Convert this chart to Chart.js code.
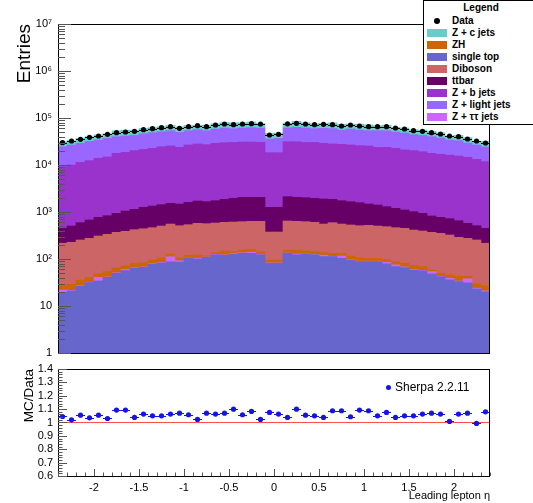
<!DOCTYPE html>
<html lang="en">
<head>
<meta charset="UTF-8">
<title>Leading lepton eta</title>
<script src="https://cdn.jsdelivr.net/npm/chart.js"></script>
<style>
  body { margin: 0; background: #fff; }
  #page { position: relative; width: 533px; height: 503px; overflow: hidden; font-family: 'Liberation Sans', Arial, Helvetica, sans-serif; }
  #mainChart { position: absolute; left: 0; top: 0; }
  #ratioChart { position: absolute; left: 0; top: 362px; }
  #legend { position: absolute; left: 423px; top: 0; width: 116px; height: 125px; border: 1px solid #000; background: #fff; box-sizing: border-box; font: bold 10px 'Liberation Sans', Arial, sans-serif; }
  #legend .title { position: absolute; left: 0; right: 0; top: 1px; text-align: center; line-height: 12px; }
  #legend .row { position: absolute; left: 0; height: 12px; line-height: 12px; white-space: nowrap; }
  #legend .sw { position: absolute; left: 3px; top: 2px; width: 20px; height: 8px; }
  #legend .dot { position: absolute; left: 10px; top: 3px; width: 6px; height: 6px; border-radius: 50%; background: #000; }
  #legend .lbl { position: absolute; left: 28px; top: 0; }
  #sherpa { position: absolute; left: 386px; top: 379px; font-size: 12px; line-height: 16px; white-space: nowrap; }
  #sherpa .dot { display: inline-block; width: 5px; height: 5px; border-radius: 50%; background: #1414e6; margin-right: 4px; vertical-align: 1px; }
</style>
</head>
<body>
<div id="page">
  <canvas id="mainChart" width="533" height="362"></canvas>
  <canvas id="ratioChart" width="533" height="141"></canvas>
  <div id="legend"></div>
  <div id="sherpa"><span class="dot"></span>Sherpa 2.2.11</div>
</div>
<script>
// 48 bins of 0.1 in eta, from -2.4 to 2.4
const binCenters = [-2.35, -2.25, -2.15, -2.05, -1.95, -1.85, -1.75, -1.65, -1.55, -1.45,
  -1.35, -1.25, -1.15, -1.05, -0.95, -0.85, -0.75, -0.65, -0.55, -0.45,
  -0.35, -0.25, -0.15, -0.05, 0.05, 0.15, 0.25, 0.35, 0.45, 0.55,
  0.65, 0.75, 0.85, 0.95, 1.05, 1.15, 1.25, 1.35, 1.45, 1.55,
  1.65, 1.75, 1.85, 1.95, 2.05, 2.15, 2.25, 2.35];
const binHalfWidth = 0.05;

const dataCounts = [29800, 32400, 35200, 38800, 41400, 44900, 48700, 50400, 52000, 56400,
  59300, 62200, 65400, 60300, 65400, 68700, 65400, 71000, 74500, 72100,
  74500, 75700, 74500, 43500, 44900, 75000, 77100, 74500, 72100, 73300,
  72100, 67600, 71000, 67600, 65400, 65400, 65400, 61200, 58300, 53700,
  52000, 48700, 45700, 41400, 40100, 35700, 32400, 29400];

// MC samples, listed bottom of the stack first
const singleTop = [19.5, 20.9, 26.6, 31.4, 34, 40.7, 49.6, 56.5, 63.3, 66.5,
  78.3, 82.2, 87, 86.3, 103, 100, 108, 122, 120, 126,
  132, 132, 122, 81, 81, 132, 122, 126, 122, 112,
  112, 103, 95, 88, 88, 88, 79, 69, 66, 58,
  56, 48, 42, 36, 33, 31, 23, 20];
const zTauTau = [2.5, 0.6, 0.9, 0.6, 6.7, 0.8, 1.4, 3.5, 1.7, 1.5,
  1.7, 1.8, 25, 5.7, 2, 4, 2, 3, 2, 4,
  4, 8, 2, 2, 2, 2, 6, 2, 3, 8,
  2, 13, 2, 2, 2, 2, 6, 6, 2, 2,
  1, 6, 1, 3, 1, 7, 1, 1];
const zh = [5, 7.4, 8.2, 8.7, 7.3, 12.2, 13.4, 11, 15.9, 15.5,
  15.2, 23, 16, 13, 15, 18, 8, 11, 26, 13,
  19, 21, 19, 12, 12, 21, 27, 20, 19, 16,
  18, 16, 19, 17, 13, 13, 13, 13, 13, 12,
  12, 4, 7, 7, 9, 5, 6, 6];
const diboson = [189, 198, 218, 234, 260, 281, 305, 317, 340, 357,
  369, 396, 427, 406, 417, 452, 447, 447, 455, 469,
  467, 471, 489, 280, 280, 489, 477, 474, 459, 419,
  461, 423, 413, 404, 417, 400, 389, 376, 368, 342,
  325, 311, 302, 278, 246, 232, 224, 189];
const ttbar = [233, 276, 339, 401, 463, 500, 568, 662, 719, 816,
  878, 929, 975, 969, 1070, 1140, 1092, 1158, 1259, 1343,
  1431, 1421, 1421, 882, 882, 1474, 1421, 1396, 1352, 1336,
  1269, 1186, 1130, 1069, 960, 906, 811, 733, 655, 602,
  543, 453, 419, 397, 364, 299, 257, 233];
const zbJets = [8750, 9500, 10810, 11720, 13130, 13970, 16760, 17550, 19060, 20240,
  21260, 23070, 23870, 22320, 25090, 26290, 25440, 27160, 27940, 28350,
  28750, 28750, 28250, 17040, 17040, 29180, 29250, 28280, 28350, 27010,
  26140, 25760, 25040, 24220, 23920, 22390, 22500, 21400, 19800, 19180,
  18260, 16880, 16130, 15480, 14850, 14030, 12690, 11350];
const zLightJets = [15240, 16570, 17460, 19420, 20050, 22020, 22230, 22730, 22440, 24750,
  26030, 26500, 28230, 25650, 26930, 28330, 26530, 29320, 31290, 28820,
  30290, 31270, 30790, 17370, 18520, 30200, 31920, 30790, 28820, 31210,
  31120, 27930, 31520, 29630, 28230, 29830, 29830, 27580, 26910, 23830,
  23440, 22230, 20570, 17750, 17380, 14670, 13370, 12310];
const zcJets = [6700, 6480, 8270, 8340, 9730, 9430, 13300, 13760, 11340, 13710,
  13640, 14310, 15890, 15080, 15570, 13950, 16350, 17250, 18630, 20190,
  17730, 19910, 15120, 11090, 10910, 16350, 21590, 17510, 16580, 15980,
  19320, 18120, 15830, 18460, 17530, 15040, 16680, 13340, 13410, 12350,
  12640, 12180, 11110, 7780, 9740, 8930, 5610, 7640];

const ratioValues = [1.045, 1.02, 1.055, 1.035, 1.055, 1.03, 1.093, 1.093, 1.038, 1.063,
  1.05, 1.05, 1.063, 1.07, 1.058, 1.023, 1.07, 1.063, 1.07, 1.10,
  1.058, 1.083, 1.023, 1.075, 1.063, 1.038, 1.10, 1.055, 1.05, 1.038,
  1.088, 1.088, 1.043, 1.093, 1.088, 1.05, 1.075, 1.038, 1.05, 1.05,
  1.063, 1.07, 1.063, 1.008, 1.063, 1.07, 0.993, 1.08];
const ratioErrors = [0.012, 0.009, 0.008, 0.008, 0.007, 0.007, 0.006, 0.006, 0.006, 0.006,
  0.006, 0.006, 0.006, 0.006, 0.006, 0.006, 0.006, 0.006, 0.006, 0.006,
  0.006, 0.006, 0.006, 0.008, 0.008, 0.006, 0.006, 0.006, 0.006, 0.006,
  0.006, 0.006, 0.006, 0.006, 0.006, 0.006, 0.006, 0.006, 0.006, 0.006,
  0.007, 0.007, 0.008, 0.008, 0.009, 0.010, 0.012, 0.013];

const xTickValues = [-2, -1.5, -1, -0.5, 0, 0.5, 1, 1.5, 2];
const xTickLabels = ['-2', '-1.5', '-1', '-0.5', '0', '0.5', '1', '1.5', '2'];
const yTickValues = [1, 10, 100, 1e3, 1e4, 1e5, 1e6, 1e7];
const yTickLabels = ['1', '10', '10\u00b2', '10\u00b3', '10\u2074', '10\u2075', '10\u2076', '10\u2077'];
const ratioTickValues = [0.6, 0.7, 0.8, 0.9, 1, 1.1, 1.2, 1.3, 1.4];
const ratioTickLabels = ['0.6', '0.7', '0.8', '0.9', '1', '1.1', '1.2', '1.3', '1.4'];

const colors = {
  zc: '#66cccc', zh: '#cc6600', top: '#6666cc', vv: '#cc6666',
  tt: '#660066', zb: '#9933cc', zl: '#9966ff', ztt: '#cc66ff'
};

const stack = [
  { label: 'single top', values: singleTop, color: colors.top },
  { label: 'Z + \u03c4\u03c4 jets', values: zTauTau, color: colors.ztt },
  { label: 'ZH', values: zh, color: colors.zh },
  { label: 'Diboson', values: diboson, color: colors.vv },
  { label: 'ttbar', values: ttbar, color: colors.tt },
  { label: 'Z + b jets', values: zbJets, color: colors.zb },
  { label: 'Z + light jets', values: zLightJets, color: colors.zl },
  { label: 'Z + c jets', values: zcJets, color: colors.zc }
];

const legendRows = [
  ['Data', null], ['Z + c jets', colors.zc], ['ZH', colors.zh], ['single top', colors.top],
  ['Diboson', colors.vv], ['ttbar', colors.tt], ['Z + b jets', colors.zb],
  ['Z + light jets', colors.zl], ['Z + \u03c4\u03c4 jets', colors.ztt]
];

const fontFamily = "'Liberation Sans', Arial, Helvetica, sans-serif";
Chart.defaults.font.family = fontFamily;
Chart.defaults.color = '#000';

// legend box in the top right corner
const legendEl = document.getElementById('legend');
legendEl.innerHTML = '<div class="title">Legend</div>' + legendRows.map(([name, col], i) => {
  const top = 14 + i * 11.95;
  const mark = col ? `<span class="sw" style="background:${col}"></span>` : '<span class="dot"></span>';
  return `<div class="row" style="top:${top}px">${mark}<span class="lbl">${name}</span></div>`;
}).join('');

const toPoints = vals => vals.map((v, i) => ({ x: binCenters[i], y: v }));

// ROOT-like frame with tick marks pointing into the pad
function drawFrame(ctx, a) {
  ctx.strokeStyle = '#000';
  ctx.lineWidth = 1;
  ctx.strokeRect(a.left + 0.5, a.top + 0.5, a.right - a.left - 1, a.bottom - a.top);
}

function tick(ctx, x1, y1, x2, y2) {
  ctx.beginPath();
  ctx.moveTo(x1, y1);
  ctx.lineTo(x2, y2);
  ctx.stroke();
}

const mainDecor = {
  id: 'mainDecor',
  afterDatasetsDraw(chart) {
    const { ctx, chartArea: a, scales: { x, y } } = chart;
    ctx.save();
    // horizontal bin-width bars on the data points
    ctx.strokeStyle = '#000';
    ctx.lineWidth = 1;
    dataCounts.forEach((v, i) => {
      const py = Math.round(y.getPixelForValue(v)) + 0.5;
      tick(ctx, x.getPixelForValue(binCenters[i] - binHalfWidth), py, x.getPixelForValue(binCenters[i] + binHalfWidth), py);
    });
    drawFrame(ctx, a);
    ctx.strokeStyle = '#555';
    for (let e = 0; e < 7; e++) {
      for (let k = 1; k <= 9; k++) {
        const py = Math.round(y.getPixelForValue(k * Math.pow(10, e))) + 0.5;
        tick(ctx, a.left, py, a.left + (k === 1 ? 13 : 7), py);
      }
    }
    const top = Math.round(y.getPixelForValue(1e7)) + 0.5;
    tick(ctx, a.left, top, a.left + 13, top);
    ctx.restore();
  }
};

const ratioDecor = {
  id: 'ratioDecor',
  beforeDatasetsDraw(chart) {
    const { ctx, scales: { x, y } } = chart;
    ctx.save();
    ctx.strokeStyle = '#1414e6';
    ctx.lineWidth = 1;
    ratioValues.forEach((v, i) => {
      const px = x.getPixelForValue(binCenters[i]);
      const py = Math.round(y.getPixelForValue(v)) + 0.5;
      tick(ctx, x.getPixelForValue(binCenters[i] - binHalfWidth), py, x.getPixelForValue(binCenters[i] + binHalfWidth), py);
      tick(ctx, Math.round(px) + 0.5, y.getPixelForValue(v - ratioErrors[i]), Math.round(px) + 0.5, y.getPixelForValue(v + ratioErrors[i]));
    });
    ctx.restore();
  },
  afterDraw(chart) {
    const { ctx, chartArea: a, scales: { x, y } } = chart;
    ctx.save();
    drawFrame(ctx, a);
    ctx.strokeStyle = '#555';
    for (let k = 30; k <= 70; k++) {
      const py = Math.round(y.getPixelForValue(k / 50)) + 0.5;
      tick(ctx, a.left, py, a.left + (k % 5 === 0 ? 9 : 4.5), py);
    }
    for (let k = -24; k <= 24; k++) {
      const px = Math.round(x.getPixelForValue(k / 10)) + 0.5;
      tick(ctx, px, a.bottom, px, a.bottom - (k % 5 === 0 ? 7 : 3.5));
    }
    ctx.restore();
  }
};

const mainDatasets = stack.map(s => ({
  type: 'bar',
  label: s.label,
  stack: 'mc',
  data: toPoints(s.values),
  backgroundColor: s.color,
  borderWidth: 0,
  barPercentage: 1,
  categoryPercentage: 1
}));
mainDatasets.push({
  type: 'line',
  label: 'Data',
  stack: 'data',
  order: -1,
  data: toPoints(dataCounts),
  showLine: false,
  pointRadius: 2.6,
  pointBackgroundColor: '#000',
  pointBorderWidth: 0
});

// the tick gap sits in tickLength (grid lines themselves are hidden), so the
// tick label padding stays 0 and does not push the plot area inwards
new Chart(document.getElementById('mainChart'), {
  type: 'bar',
  data: { datasets: mainDatasets },
  options: {
    responsive: false,
    animation: false,
    layout: { padding: { top: 24, right: 43, bottom: 9, left: 0 } },
    plugins: { legend: { display: false }, tooltip: { enabled: false } },
    scales: {
      x: {
        type: 'linear', min: -2.4, max: 2.4, offset: false, display: false,
        afterBuildTicks: s => { s.ticks = xTickValues.map(v => ({ value: v })); }
      },
      y: {
        type: 'logarithmic', min: 1, max: 1e7, stacked: true,
        afterBuildTicks: s => { s.ticks = yTickValues.map(v => ({ value: v })); },
        afterFit: s => { s.width = 58; },
        grid: { display: false, drawTicks: true, tickLength: 6 },
        border: { display: false },
        ticks: {
          autoSkip: false, padding: 0, font: { size: 11 },
          callback: v => yTickLabels[yTickValues.indexOf(v)]
        },
        title: { display: true, text: 'Entries', align: 'end', font: { size: 19 }, padding: { top: 13 } }
      }
    }
  },
  plugins: [mainDecor]
});

new Chart(document.getElementById('ratioChart'), {
  type: 'scatter',
  data: {
    datasets: [
      {
        label: 'Sherpa 2.2.11',
        data: toPoints(ratioValues),
        pointRadius: 2.6,
        pointBackgroundColor: '#1414e6',
        pointBorderWidth: 0
      },
      {
        type: 'line',
        label: 'unity',
        data: [{ x: -2.4, y: 1 }, { x: 2.4, y: 1 }],
        borderColor: '#ff5050',
        borderWidth: 1.2,
        pointRadius: 0
      }
    ]
  },
  options: {
    responsive: false,
    animation: false,
    layout: { padding: { top: 7, right: 43, bottom: 0, left: 0 } },
    plugins: { legend: { display: false }, tooltip: { enabled: false } },
    scales: {
      x: {
        type: 'linear', min: -2.4, max: 2.4,
        afterBuildTicks: s => { s.ticks = xTickValues.map(v => ({ value: v })); },
        afterFit: s => { s.height = 27; },
        grid: { display: false, drawTicks: true, tickLength: 5 },
        border: { display: false },
        ticks: {
          autoSkip: false, maxRotation: 0, padding: 0, font: { size: 11 },
          callback: v => xTickLabels[xTickValues.indexOf(v)]
        },
        title: { display: true, text: 'Leading lepton \u03b7', align: 'end', font: { size: 11 }, padding: 0 }
      },
      y: {
        min: 0.6, max: 1.4,
        afterBuildTicks: s => { s.ticks = ratioTickValues.map(v => ({ value: v })); },
        afterFit: s => { s.width = 58; },
        grid: { display: false, drawTicks: true, tickLength: 5 },
        border: { display: false },
        ticks: {
          autoSkip: false, padding: 0, font: { size: 11 },
          callback: v => ratioTickLabels[ratioTickValues.indexOf(v)]
        },
        title: { display: true, text: 'MC/Data', align: 'end', font: { size: 13.5 }, padding: { top: 21 } }
      }
    }
  },
  plugins: [ratioDecor]
});
</script>
</body>
</html>
